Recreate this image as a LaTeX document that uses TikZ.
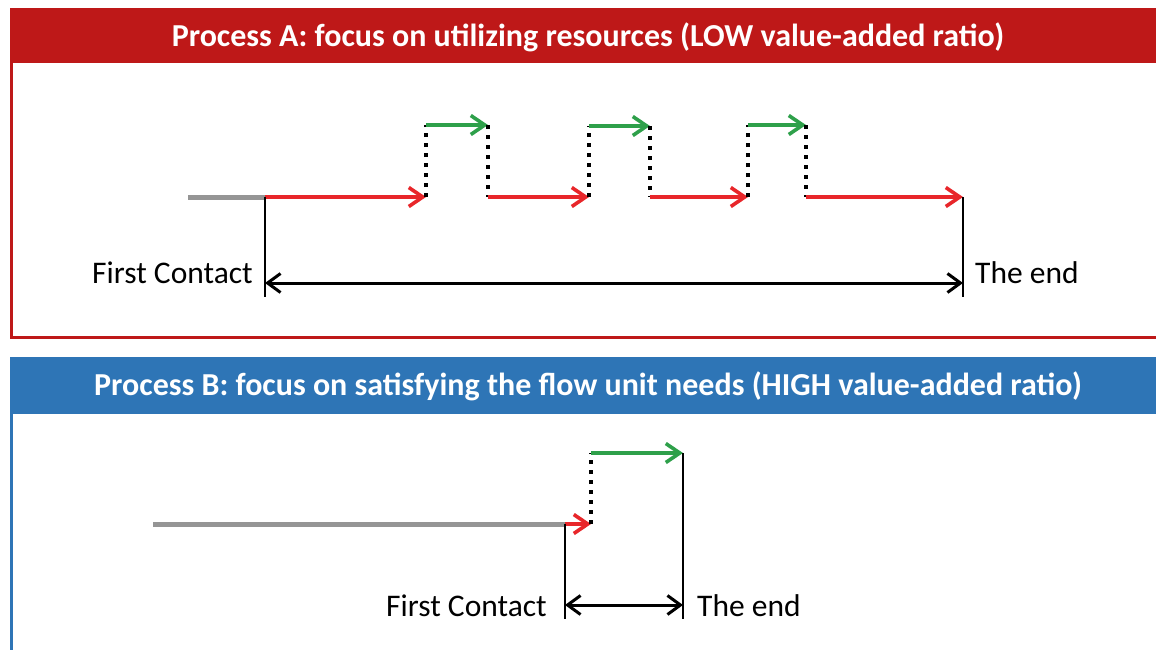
\documentclass[tikz,border=0pt]{standalone}
\usepackage{fontspec}
\setmainfont{Carlito}
\usetikzlibrary{arrows.meta}
\definecolor{hdrred}{HTML}{BE1818}
\definecolor{hdrblue}{HTML}{2E75B6}
\definecolor{flowred}{HTML}{E8262A}
\definecolor{flowgreen}{HTML}{2EA04A}
\definecolor{waitgray}{HTML}{959595}
\tikzset{
  flowtip/.tip={Straight Barb[length=14pt, width=19pt]},
  spantip/.tip={Straight Barb[length=13pt, width=19pt]},
  panelA/.style={draw=hdrred, line width=3pt},
  panelB/.style={draw=hdrblue, line width=3pt},
  hdrtext/.style={text=white, font=\bfseries\fontsize{32}{36}\selectfont, inner sep=0pt},
  lbl/.style={font=\fontsize{31.5}{36}\selectfont, inner sep=0pt},
  redflow/.style={draw=flowred, line width=3.6pt, -flowtip},
  greenflow/.style={draw=flowgreen, line width=3.6pt, -flowtip},
  waitline/.style={draw=waitgray, line width=5pt},
  dotline/.style={draw=black, line width=4pt, dash pattern=on 4pt off 6pt},
  tickline/.style={draw=black, line width=2pt},
  span/.style={draw=black, line width=3pt, spantip-spantip}
}
\begin{document}
\begin{tikzpicture}[x=1pt, y=-1pt]
\useasboundingbox (0,0) rectangle (1156,649);
\fill[white] (0,0) rectangle (1156,649);

% ---- Panel A frame ----
\fill[hdrred] (10,8) rectangle (1170,63);
\draw[panelA] (11.5,9.5) rectangle (1170,337);
\node[hdrtext] (titleA) at (588,37) {Process A: focus on utilizing resources (LOW value-added ratio)};

% ---- Panel B frame ----
\fill[hdrblue] (10,357) rectangle (1170,414);
\draw[panelB] (11.5,358.5) rectangle (1170,680);
\node[hdrtext] (titleB) at (588,386) {Process B: focus on satisfying the flow unit needs (HIGH value-added ratio)};

% ---- Process A flow ----
\coordinate (a0) at (188,197);
\coordinate (a1) at (265,197);
\coordinate (a2) at (426,197);
\coordinate (a2u) at (426,125);
\coordinate (a3u) at (488,125);
\coordinate (a3) at (488,197);
\coordinate (a4) at (589,197);
\coordinate (a4u) at (589,126);
\coordinate (a5u) at (650,126);
\coordinate (a5) at (650,197);
\coordinate (a6) at (748,197);
\coordinate (a6u) at (748,125);
\coordinate (a7u) at (806,125);
\coordinate (a7) at (806,197);
\coordinate (a8) at (963,197);
\coordinate (aL) at (265,297);
\coordinate (aR) at (963,297);
\coordinate (aLm) at (265,283);
\coordinate (aRm) at (963,283);

\draw[waitline] (a0) -- (a1);
\draw[redflow] (a1) -- (a2);
\draw[dotline] (a2) -- (a2u);
\draw[greenflow] (a2u) -- (a3u);
\draw[dotline] (a3u) -- (a3);
\draw[redflow] (a3) -- (a4);
\draw[dotline] (a4) -- (a4u);
\draw[greenflow] (a4u) -- (a5u);
\draw[dotline] (a5u) -- (a5);
\draw[redflow] (a5) -- (a6);
\draw[dotline] (a6) -- (a6u);
\draw[greenflow] (a6u) -- (a7u);
\draw[dotline] (a7u) -- (a7);
\draw[redflow] (a7) -- (a8);
\draw[tickline] (a1) -- (aL);
\draw[tickline] (a8) -- (aR);
\draw[span] (aLm) -- (aRm);
\node[lbl, anchor=east] (firstA) at (253,273) {First Contact};
\node[lbl, anchor=west] (endA) at (975,273) {The end};

% ---- Process B flow ----
\coordinate (b0) at (153,524);
\coordinate (b1) at (565,524);
\coordinate (b2) at (591,524);
\coordinate (b2u) at (591,453);
\coordinate (b3) at (683,453);
\coordinate (bL) at (565,619);
\coordinate (bR) at (683,619);
\coordinate (bLm) at (565,605);
\coordinate (bRm) at (683,605);

\draw[waitline] (b0) -- (b1);
\draw[redflow] (b1) -- (b2);
\draw[dotline] (b2) -- (b2u);
\draw[greenflow] (b2u) -- (b3);
\draw[tickline] (b1) -- (bL);
\draw[tickline] (b3) -- (bR);
\draw[span] (bLm) -- (bRm);
\node[lbl, anchor=east] (firstB) at (547,606) {First Contact};
\node[lbl, anchor=west] (endB) at (697,606) {The end};
\end{tikzpicture}
\end{document}
